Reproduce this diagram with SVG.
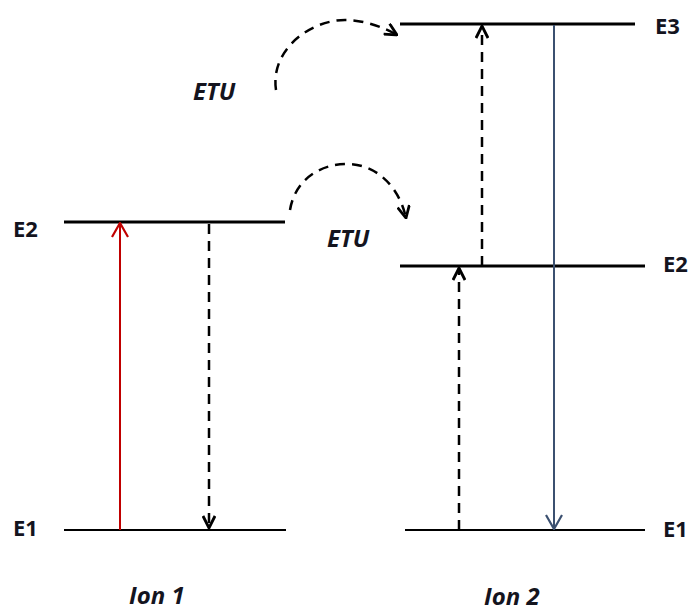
<svg xmlns="http://www.w3.org/2000/svg" width="694" height="613" viewBox="0 0 694 613">
<style>
.lvl{stroke:#000;stroke-width:3;fill:none}
.lvl1{stroke:#000;stroke-width:2;fill:none}
.dash{stroke:#000;stroke-width:2.5;fill:none;stroke-dasharray:10 7}
.lab{font-family:"Open Sans","Liberation Sans",sans-serif;font-weight:bold;font-size:22px;fill:#14141e}
.it{font-family:"Open Sans","Liberation Sans",sans-serif;font-weight:bold;font-style:italic;font-size:24px;fill:#14141e}
</style>
<defs>
<marker id="ah" viewBox="0 0 14 14" refX="13" refY="7" markerWidth="14" markerHeight="14" markerUnits="userSpaceOnUse" orient="auto">
<path d="M1,1 L13,7 L1,13" fill="none" stroke="#000" stroke-width="2.8"/>
</marker>
<marker id="ahr" viewBox="0 0 16 18" refX="15" refY="9" markerWidth="16" markerHeight="18" markerUnits="userSpaceOnUse" orient="auto">
<path d="M1,1 L15,9 L1,17" fill="none" stroke="#c00000" stroke-width="2.2"/>
</marker>
<marker id="ahb" viewBox="0 0 16 18" refX="15" refY="9" markerWidth="16" markerHeight="18" markerUnits="userSpaceOnUse" orient="auto">
<path d="M1,1 L15,9 L1,17" fill="none" stroke="#3b5070" stroke-width="2.2"/>
</marker>
</defs>
<g id="ion1">
<line id="ion1-E2" class="lvl" x1="64" y1="222" x2="285" y2="222"/>
<line id="ion1-E1" class="lvl1" x1="64" y1="530" x2="286" y2="530"/>
<text class="lab" x="13" y="237">E2</text>
<text class="lab" x="13" y="536">E1</text>
<text class="it" x="129" y="604">Ion 1</text>
</g>
<g id="ion2">
<line id="ion2-E3" class="lvl" x1="400" y1="24" x2="635" y2="24"/>
<line id="ion2-E2" class="lvl" x1="400" y1="266" x2="645" y2="266"/>
<line id="ion2-E1" class="lvl1" x1="405" y1="530" x2="645" y2="530"/>
<text class="lab" x="655" y="34">E3</text>
<text class="lab" x="663" y="272">E2</text>
<text class="lab" x="663" y="537">E1</text>
<text class="it" x="484" y="605">Ion 2</text>
</g>
<g id="etu-labels">
<text class="it" x="193" y="100">ETU</text>
<text class="it" x="327" y="247">ETU</text>
</g>
<g id="connectors">
<line x1="120" y1="530" x2="120" y2="223" stroke="#c00000" stroke-width="2" marker-end="url(#ahr)"/>
<line class="dash" x1="209" y1="224" x2="209" y2="528" marker-end="url(#ah)"/>
<line x1="554" y1="25" x2="554" y2="529" stroke="#3b5070" stroke-width="2" marker-end="url(#ahb)"/>
<line class="dash" x1="459" y1="530" x2="459" y2="268" marker-end="url(#ah)"/>
<line class="dash" x1="482" y1="266" x2="482" y2="26" marker-end="url(#ah)"/>
<path class="dash" d="M276,90 C270,50 310,20 345,20 C365,20 385,28 397,35" marker-end="url(#ah)"/>
<path class="dash" d="M290,210 C295,180 320,163 350,164 C380,166 400,190 406,218" marker-end="url(#ah)"/>
</g>
</svg>
